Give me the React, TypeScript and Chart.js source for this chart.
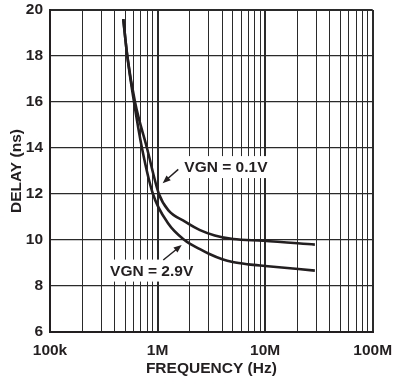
import React, { useEffect, useRef } from "react";
import { Chart, registerables } from "chart.js";

Chart.register(...registerables);

// ---- data ----
const freqVgn01 = [480e3, 523e3, 617e3, 797e3, 1.03e6, 1.256e6, 1.8e6, 2.48e6, 3.4e6, 5.05e6, 9.6e6, 29e6];
const delayVgn01 = [19.6, 18, 16, 14, 12, 11.3, 10.8, 10.43, 10.2, 10.04, 9.97, 9.8];

const freqVgn29 = [480e3, 523e3, 604e3, 716e3, 906e3, 1.256e6, 1.78e6, 2.48e6, 3.0e6, 4.0e6, 5.0e6, 7.0e6, 10e6, 29e6];
const delayVgn29 = [19.6, 18, 16, 14, 12, 10.72, 10, 9.6, 9.4, 9.16, 9.04, 8.94, 8.87, 8.67];

const gridFreqs = [
  1e5, 2e5, 3e5, 4e5, 5e5, 6e5, 7e5, 8e5, 9e5,
  1e6, 2e6, 3e6, 4e6, 5e6, 6e6, 7e6, 8e6, 9e6,
  1e7, 2e7, 3e7, 4e7, 5e7, 6e7, 7e7, 8e7, 9e7,
  1e8,
];
const xTickValues = [1e5, 1e6, 1e7, 1e8];
const xTickLabels = ["100k", "1M", "10M", "100M"];

const yMin = 6;
const yMax = 20;
const yStep = 2;

const calloutTexts = ["VGN = 0.1V", "VGN = 2.9V"];
const calloutLabelAt = [[4.32e6, 13.17], [8.81e5, 8.67]];
const calloutArrowFrom = [[1.557e6, 13.07], [1.13e6, 9.13]];
const calloutArrowTo = [[1.115e6, 12.47], [1.675e6, 9.78]];

const FONT_FAMILY = '"Liberation Sans", Arial, Helvetica, sans-serif';
const FONT_SIZE = 15.5;
const INK = "#231f20";
const GRID = "#2a2a2a";

const isDecade = (v: number) => xTickValues.indexOf(v) >= 0;

const calloutPlugin = {
  id: "callouts",
  afterDatasetsDraw(chart: any) {
    const { ctx, scales } = chart;
    const xs = scales.x;
    const ys = scales.y;
    ctx.save();
    ctx.font = `bold ${FONT_SIZE}px ${FONT_FAMILY}`;
    ctx.textAlign = "center";
    ctx.textBaseline = "middle";
    calloutTexts.forEach((text, i) => {
      const lx = xs.getPixelForValue(calloutLabelAt[i][0]);
      const ly = ys.getPixelForValue(calloutLabelAt[i][1]);
      const w = ctx.measureText(text).width;
      ctx.fillStyle = "#ffffff";
      ctx.fillRect(lx - w / 2 - 3, ly - 11, w + 6, 22);
      ctx.fillStyle = INK;
      ctx.fillText(text, lx, ly + 1);

      const fx = xs.getPixelForValue(calloutArrowFrom[i][0]);
      const fy = ys.getPixelForValue(calloutArrowFrom[i][1]);
      const tx = xs.getPixelForValue(calloutArrowTo[i][0]);
      const ty = ys.getPixelForValue(calloutArrowTo[i][1]);
      const ang = Math.atan2(ty - fy, tx - fx);
      const headLen = 8;
      const headW = 3.2;
      ctx.strokeStyle = INK;
      ctx.lineWidth = 1.5;
      ctx.beginPath();
      ctx.moveTo(fx, fy);
      ctx.lineTo(tx - Math.cos(ang) * (headLen - 1), ty - Math.sin(ang) * (headLen - 1));
      ctx.stroke();
      const bx = tx - Math.cos(ang) * headLen;
      const by = ty - Math.sin(ang) * headLen;
      ctx.beginPath();
      ctx.moveTo(tx, ty);
      ctx.lineTo(bx + Math.sin(ang) * headW, by - Math.cos(ang) * headW);
      ctx.lineTo(bx - Math.sin(ang) * headW, by + Math.cos(ang) * headW);
      ctx.closePath();
      ctx.fillStyle = INK;
      ctx.fill();
    });
    ctx.restore();
  },
};

export default function App() {
  const canvasRef = useRef<HTMLCanvasElement | null>(null);

  useEffect(() => {
    document.body.style.margin = "0";
    const canvas = canvasRef.current;
    if (!canvas) return;
    const font = { family: FONT_FAMILY, size: FONT_SIZE, weight: "bold" as const };

    const chart = new Chart(canvas, {
      type: "line",
      data: {
        datasets: [
          {
            label: "VGN = 0.1V",
            data: freqVgn01.map((f, i) => ({ x: f, y: delayVgn01[i] })),
            borderColor: INK,
            borderWidth: 2.6,
            pointRadius: 0,
            cubicInterpolationMode: "monotone",
            fill: false,
          },
          {
            label: "VGN = 2.9V",
            data: freqVgn29.map((f, i) => ({ x: f, y: delayVgn29[i] })),
            borderColor: INK,
            borderWidth: 2.6,
            pointRadius: 0,
            cubicInterpolationMode: "monotone",
            fill: false,
          },
        ],
      },
      options: {
        animation: false,
        responsive: false,
        maintainAspectRatio: false,
        devicePixelRatio: 1,
        layout: { padding: { top: 10, right: 20.3, left: 0, bottom: 0 } },
        plugins: {
          legend: { display: false },
          tooltip: { enabled: false },
        },
        scales: {
          x: {
            type: "logarithmic",
            min: 1e5,
            max: 1e8,
            afterBuildTicks: (scale: any) => {
              scale.ticks = gridFreqs.map((v) => ({ value: v }));
            },
            afterFit: (scale: any) => {
              scale.height = 51;
              scale.paddingLeft = 0;
              scale.paddingRight = 0;
              scale.paddingTop = 0;
              scale.paddingBottom = 0;
            },
            ticks: {
              autoSkip: false,
              maxRotation: 0,
              minRotation: 0,
              padding: 9,
              color: INK,
              font,
              callback: (value: any) => {
                const idx = xTickValues.indexOf(Number(value));
                return idx >= 0 ? xTickLabels[idx] : "";
              },
            },
            grid: {
              color: GRID,
              drawTicks: false,
              lineWidth: (ctx: any) => {
                const v = ctx.tick ? ctx.tick.value : 0;
                if (v === 1e5 || v === 1e8) return 2;
                return isDecade(v) ? 2 : 1;
              },
            },
            border: { display: true, color: INK, width: 2 },
            title: {
              display: true,
              text: "FREQUENCY (Hz)",
              color: INK,
              font,
              padding: { top: 0, bottom: 5 },
            },
          },
          y: {
            type: "linear",
            min: yMin,
            max: yMax,
            afterFit: (scale: any) => {
              scale.width = 50;
              scale.paddingLeft = 0;
              scale.paddingRight = 0;
              scale.paddingTop = 0;
              scale.paddingBottom = 0;
            },
            ticks: {
              stepSize: yStep,
              padding: 7,
              color: INK,
              font,
            },
            grid: {
              color: GRID,
              drawTicks: false,
              lineWidth: (ctx: any) => {
                const v = ctx.tick ? ctx.tick.value : 0;
                return v === yMin || v === yMax ? 2 : 1.2;
              },
            },
            border: { display: true, color: INK, width: 2 },
            title: {
              display: true,
              text: "DELAY (ns)",
              color: INK,
              font,
              padding: { top: 7, bottom: 0 },
            },
          },
        },
      },
      plugins: [calloutPlugin],
    });

    return () => {
      chart.destroy();
    };
  }, []);

  return (
    <div style={{ width: 393, height: 383, position: "relative" }}>
      <canvas ref={canvasRef} width={393} height={383} style={{ display: "block" }} />
    </div>
  );
}
